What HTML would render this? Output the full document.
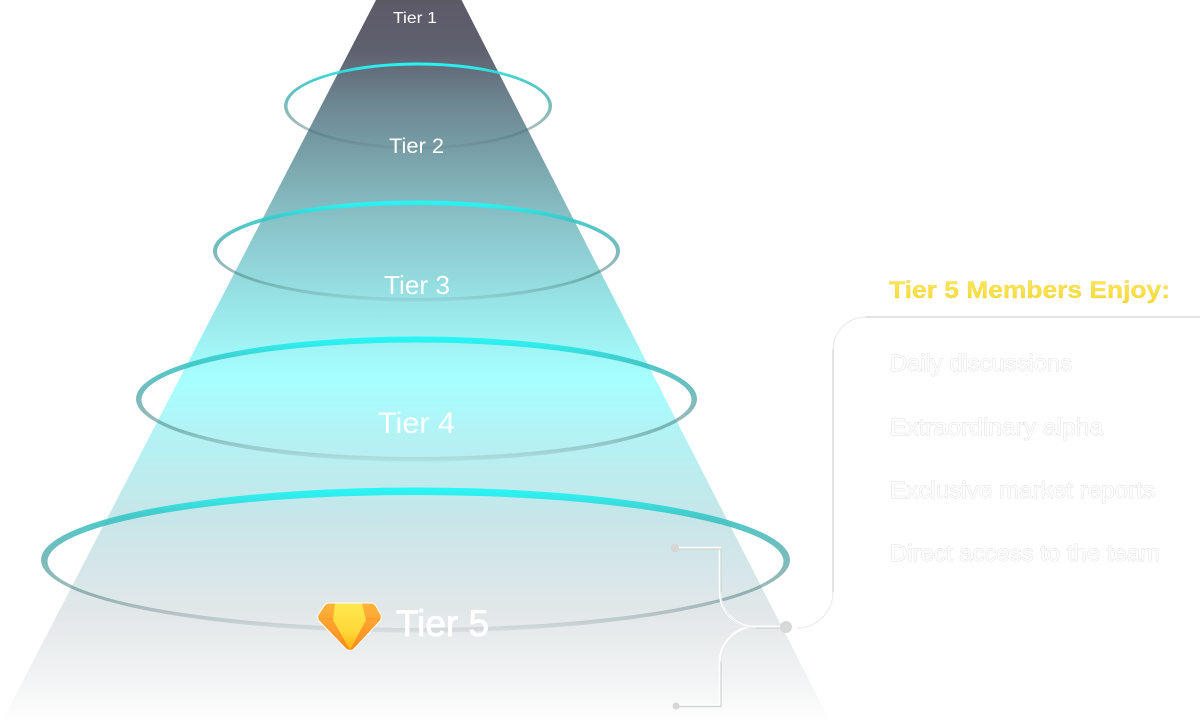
<!DOCTYPE html>
<html><head><meta charset="utf-8"><style>
html,body{margin:0;padding:0;background:#fff;width:1200px;height:721px;overflow:hidden}
svg{display:block}
text{font-family:"Liberation Sans",sans-serif}
.o{fill:#fff;stroke:#d4d4d4;stroke-width:.7;paint-order:stroke}
</style></head><body>
<svg width="1200" height="721" viewBox="0 0 1200 721" xmlns="http://www.w3.org/2000/svg">
<defs>
<linearGradient id="tri" gradientUnits="userSpaceOnUse" x1="0" y1="0" x2="0" y2="721">
<stop offset="0" stop-color="#5d5a68"/><stop offset=".07" stop-color="#5f606e"/><stop offset=".14" stop-color="#6c8591"/>
<stop offset=".3" stop-color="#88c0c5"/><stop offset=".42" stop-color="#98e4e6"/><stop offset=".525" stop-color="#a6ffff"/>
<stop offset=".62" stop-color="#b6f0f2"/><stop offset=".72" stop-color="#c7e6e9"/><stop offset=".85" stop-color="#e2e7e9"/><stop offset=".94" stop-color="#f2f3f4"/><stop offset=".985" stop-color="#fbfbfb"/><stop offset="1" stop-color="#fff"/>
</linearGradient>
<linearGradient id="ring" x1="0" y1="0" x2="0" y2="1">
<stop offset="0" stop-color="#26f8f8"/><stop offset=".06" stop-color="#2cecec" stop-opacity=".97"/><stop offset=".2" stop-color="#35c4c4" stop-opacity=".88"/><stop offset=".5" stop-color="#3e9c9c" stop-opacity=".68"/>
<stop offset=".75" stop-color="#3d6f70" stop-opacity=".45"/><stop offset=".92" stop-color="#4a6a6b" stop-opacity=".22"/><stop offset="1" stop-color="#5a6b6c" stop-opacity=".09"/>
</linearGradient>
<linearGradient id="g1" x1="0" y1="0" x2="0" y2="1"><stop offset="0" stop-color="#ffe94d"/><stop offset=".6" stop-color="#ffd83a"/><stop offset="1" stop-color="#ffb40c"/></linearGradient>
<linearGradient id="g2" x1="0" y1="0" x2="0" y2="1"><stop offset="0" stop-color="#ffb43c"/><stop offset="1" stop-color="#ff8a1e"/></linearGradient>
<linearGradient id="head" x1="0" y1="0" x2="0" y2="1"><stop offset="0" stop-color="#ffe95a"/><stop offset="1" stop-color="#f6d92f"/></linearGradient>
</defs>

<polygon points="376,0 461.5,0 830,721 2,721" fill="url(#tri)"/>

<path fill="url(#ring)" fill-rule="evenodd" d="M284 106a134 43.500 0 1 0 268 0a134 43.500 0 1 0-268 0zM287.500 106a130.500 40.500 0 1 1 261 0a130.500 40.500 0 1 1-261 0z"/>
<path fill="url(#ring)" fill-rule="evenodd" d="M213 251a203.500 50.500 0 1 0 407 0a203.500 50.500 0 1 0-407 0zM217 251.500a199.500 46.500 0 1 1 399 0a199.500 46.500 0 1 1-399 0z"/>
<path fill="url(#ring)" fill-rule="evenodd" d="M136 399a280.500 62.500 0 1 0 561 0a280.500 62.500 0 1 0-561 0zM141.500 399.750a275 57.250 0 1 1 550 0a275 57.250 0 1 1-550 0z"/>
<path fill="url(#ring)" fill-rule="evenodd" d="M41 560a374.500 72.500 0 1 0 749 0a374.500 72.500 0 1 0-749 0zM47.500 561.500a368 66.500 0 1 1 736 0a368 66.500 0 1 1-736 0z"/>

<text x="393" y="23" font-size="16" fill="#fff" textLength="44" lengthAdjust="spacingAndGlyphs">Tier 1</text>
<text x="389" y="153" font-size="21" fill="#fff" textLength="55" lengthAdjust="spacingAndGlyphs">Tier 2</text>
<text x="384" y="294" font-size="26" fill="#fff" textLength="66" lengthAdjust="spacingAndGlyphs">Tier 3</text>
<text x="378" y="433" font-size="30" fill="#fff" textLength="77" lengthAdjust="spacingAndGlyphs">Tier 4</text>
<text x="396" y="636" font-size="37" fill="#fff" stroke="#fff" stroke-width=".8" textLength="93" lengthAdjust="spacingAndGlyphs">Tier 5</text>

<!-- gem -->
<g>
<path d="M329 603H371Q374 603 376 606L381 615Q382 618 380 621L354 649Q350 652 346 649L319 621Q317 618 318 615L324 606Q326 603 329 603Z" fill="url(#g2)" stroke="#fff" stroke-width="1"/>
<path d="M318 618H382L366 620L350 650L333 620Z" fill="#ff8a1e" opacity=".5"/>
<path d="M335 603.500H362L366 620L350 650L333 620Z" fill="url(#g1)"/>
</g>

<!-- connectors -->
<g fill="none" stroke-linecap="round">
<g stroke="#fff" stroke-width="2.500">
<path d="M675 548H720V592A35 35 0 0 0 755 627H786"/>
<path d="M676 706H720V662A35 35 0 0 1 755 627H786"/>
<path d="M786 627H797A35 35 0 0 0 832 592V350A34 34 0 0 1 866 316H1200"/>
</g>
<g stroke="#e6e8e8" stroke-width="1">
<path d="M721 592A35 35 0 0 0 756 628"/>
<path d="M721 662A35 35 0 0 1 756 628"/>
<path d="M797 628A36 36 0 0 0 833 592"/>
<path d="M833 350A33 33 0 0 1 866 317"/>
</g>
<g stroke="#cfd2d3" stroke-width="1.200">
<path d="M675 549H721V592"/>
<path d="M676 706.500H721V662"/>
<path d="M756 628H786"/>
<path d="M833 592V350"/>
<path d="M866 317H1200"/>
</g>
</g>
<circle cx="675" cy="548" r="4" fill="#d6d6d6"/>
<circle cx="676" cy="706" r="3.500" fill="#d6d6d6"/>
<circle cx="786" cy="627" r="6" fill="#d8d8d8"/>

<text x="889" y="298" font-size="24" font-weight="bold" fill="url(#head)" stroke="#d8c84a" stroke-width=".2" textLength="281" lengthAdjust="spacingAndGlyphs">Tier 5 Members Enjoy:</text>
<text x="890" y="371" font-size="23" class="o" textLength="182" lengthAdjust="spacingAndGlyphs">Daily discussions</text>
<text x="890" y="435" font-size="23" class="o" textLength="213" lengthAdjust="spacingAndGlyphs">Extraordinary alpha</text>
<text x="890" y="498" font-size="23" class="o" textLength="265" lengthAdjust="spacingAndGlyphs">Exclusive market reports</text>
<text x="890" y="561" font-size="23" class="o" textLength="270" lengthAdjust="spacingAndGlyphs">Direct access to the team</text>
</svg>
</body></html>
